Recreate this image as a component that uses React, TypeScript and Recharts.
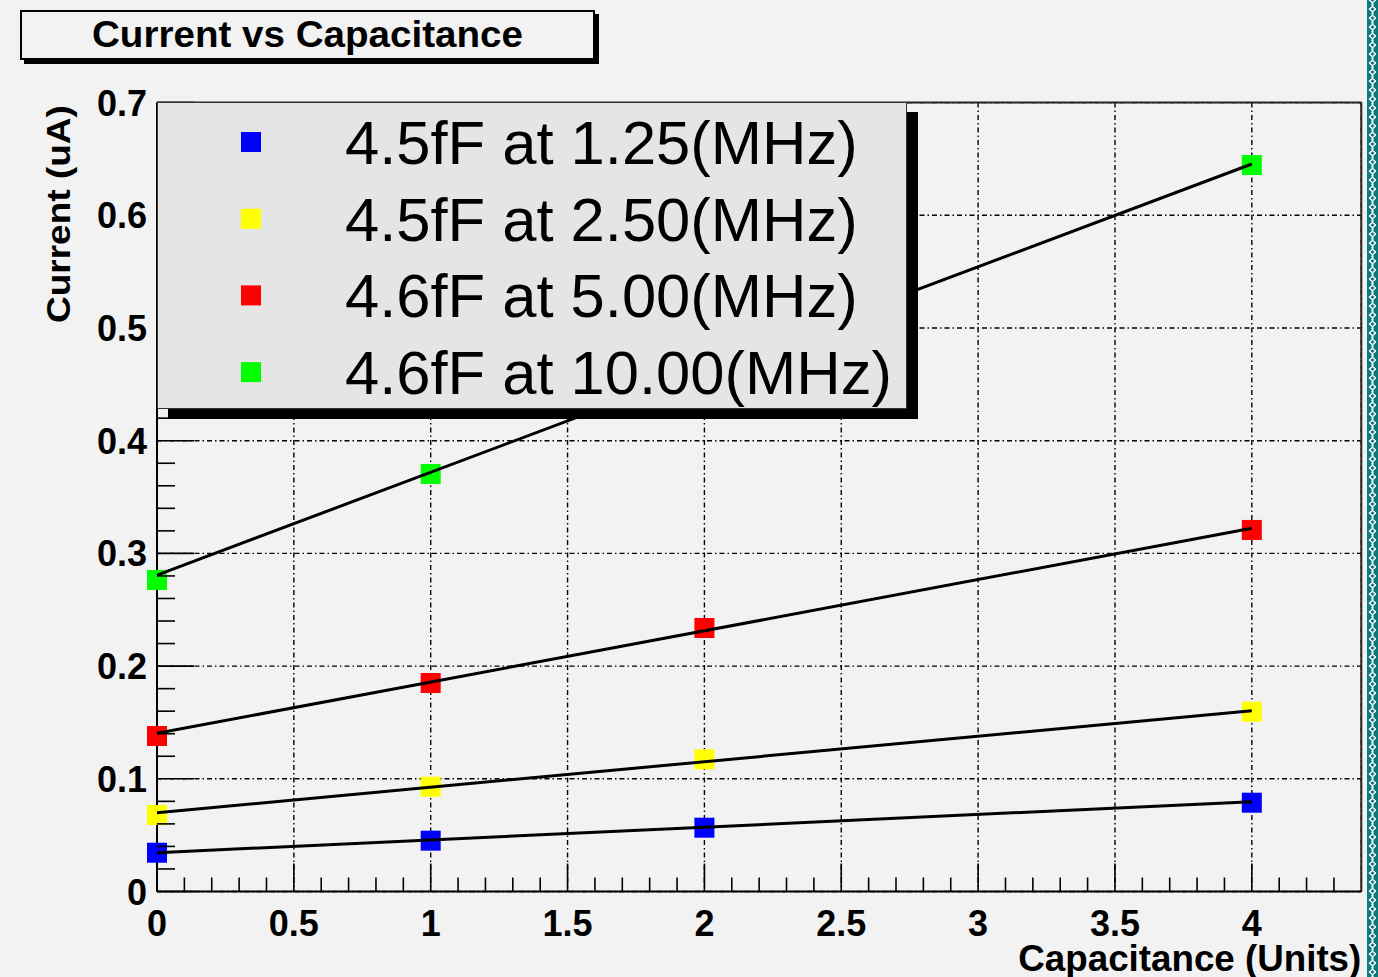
import React from 'react';
import { ComposedChart, Scatter, XAxis, YAxis, CartesianGrid, ReferenceLine, Legend } from 'recharts';

// ---- data ----
const capacitanceUnits = [0, 1, 2, 4];
const capacitanceUnits10MHz = [0, 1, 4];
const current125MHz = [0.0344, 0.0451, 0.0566, 0.0788];
const current250MHz = [0.0679, 0.093, 0.1173, 0.1595];
const current500MHz = [0.138, 0.185, 0.2338, 0.3208];
const current1000MHz = [0.2764, 0.3705, 0.6446];

// linear fit lines (end points)
const fitRange = [0, 4];
const fit125MHz = [0.0344, 0.0797];
const fit250MHz = [0.0699, 0.1604];
const fit500MHz = [0.1404, 0.3223];
const fit1000MHz = [0.2808, 0.6455];

const seriesLabels = ['4.5fF at 1.25(MHz)', '4.5fF at 2.50(MHz)', '4.6fF at 5.00(MHz)', '4.6fF at 10.00(MHz)'];
const seriesColors = ['#0000ff', '#ffff00', '#ff0000', '#00ff00'];

const chartTitle = 'Current vs Capacitance';
const xTitle = 'Capacitance (Units)';
const yTitle = 'Current (uA)';

const xTickValues = [0, 0.1, 0.2, 0.3, 0.4, 0.5, 0.6, 0.7, 0.8, 0.9, 1, 1.1, 1.2, 1.3, 1.4, 1.5, 1.6, 1.7, 1.8, 1.9, 2, 2.1, 2.2, 2.3, 2.4, 2.5, 2.6, 2.7, 2.8, 2.9, 3, 3.1, 3.2, 3.3, 3.4, 3.5, 3.6, 3.7, 3.8, 3.9, 4, 4.1, 4.2, 4.3];
const yTickValues = [0, 0.02, 0.04, 0.06, 0.08, 0.1, 0.12, 0.14, 0.16, 0.18, 0.2, 0.22, 0.24, 0.26, 0.28, 0.3, 0.32, 0.34, 0.36, 0.38, 0.4, 0.42, 0.44, 0.46, 0.48, 0.5, 0.52, 0.54, 0.56, 0.58, 0.6, 0.62, 0.64, 0.66, 0.68, 0.7];
const xGridValues = [0.5, 1, 1.5, 2, 2.5, 3, 3.5, 4];
const yGridValues = [0.1, 0.2, 0.3, 0.4, 0.5, 0.6];
const xDomain = [0, 4.4];
const yDomain = [0, 0.7];

const toPoints = (xs: number[], ys: number[]) => xs.map((x, i) => ({ x, y: ys[i] }));

const FONT = '"Liberation Sans", Arial, Helvetica, sans-serif';

const isMultiple = (v: number, step: number) => Math.abs(v / step - Math.round(v / step)) < 1e-6;

const XTick = (props: any) => {
  const { x, y, payload } = props;
  const v = payload.value as number;
  const major = isMultiple(v, 0.5);
  return (
    <g>
      <line x1={x} x2={x} y1={y} y2={y - (major ? 28 : 14)} stroke="#000" strokeWidth={1.6} />
      {major && (
        <text x={x} y={y + 44} textAnchor="middle" fontFamily={FONT} fontWeight="bold" fontSize={36} fill="#000">
          {String(v)}
        </text>
      )}
    </g>
  );
};

const YTick = (props: any) => {
  const { x, y, payload } = props;
  const v = payload.value as number;
  const major = isMultiple(v, 0.1);
  return (
    <g>
      <line x1={x} x2={x + (major ? 37 : 18)} y1={y} y2={y} stroke="#000" strokeWidth={1.6} />
      {major && (
        <text x={x - 10} y={y + 13} textAnchor="end" fontFamily={FONT} fontWeight="bold" fontSize={36} fill="#000">
          {String(v)}
        </text>
      )}
    </g>
  );
};

const XTitleLabel = (props: any) => {
  const vb = props.viewBox || { x: 157, y: 891.5, width: 1204, height: 85 };
  return (
    <text x={vb.x + vb.width} y={vb.y + 79} textAnchor="end" fontFamily={FONT} fontWeight="bold" fontSize={37}
      textLength={343} lengthAdjust="spacingAndGlyphs" fill="#000">
      {xTitle}
    </text>
  );
};

const YTitleLabel = (props: any) => {
  const vb = props.viewBox || { x: 57, y: 102.6, width: 100, height: 789 };
  const tx = vb.x + 13;
  const ty = vb.y + 2.5;
  return (
    <text x={tx} y={ty} transform={`rotate(-90 ${tx} ${ty})`} textAnchor="end" fontFamily={FONT} fontWeight="bold"
      fontSize={33} textLength={218} lengthAdjust="spacingAndGlyphs" fill="#000">
      {yTitle}
    </text>
  );
};

const square = (color: string) => (props: any) => {
  const { cx, cy } = props;
  if (cx == null || cy == null) return <g />;
  return <rect x={cx - 10} y={cy - 10} width={20} height={20} fill={color} />;
};

const noShape = () => <g />;

const LegendBox = () => (
  <div
    style={{
      width: 750,
      height: 307,
      boxSizing: 'border-box',
      border: '1.5px solid #333',
      background: '#e5e5e5',
      boxShadow: '11px 10px 0 #000',
    }}
  >
    <svg width={747} height={304} style={{ display: 'block' }}>
      {seriesLabels.map((label, i) => {
        const cy = 39 + i * 76.7;
        return (
          <g key={label}>
            <rect x={83} y={cy - 10} width={20} height={20} fill={seriesColors[i]} />
            <text x={187} y={cy + 22} fontFamily={FONT} fontSize={61.5} fill="#000">
              {label}
            </text>
          </g>
        );
      })}
    </svg>
  </div>
);

const ChainStrip = () => (
  <svg width={11} height={977} style={{ position: 'absolute', left: 1367, top: 0, display: 'block' }}>
    <defs>
      <pattern id="chain" width={11} height={9} patternUnits="userSpaceOnUse">
        <rect width={11} height={9} fill="#0a7a7a" />
        <path d="M2 0 Q10 4.5 2 9" stroke="#fff" strokeWidth={1.4} fill="none" />
        <path d="M9 0 Q1 4.5 9 9" stroke="#fff" strokeWidth={1.4} fill="none" />
      </pattern>
    </defs>
    <rect width={11} height={977} fill="url(#chain)" />
    <rect x={0} y={0} width={1.5} height={977} fill="#0a7a7a" />
    <rect x={9.5} y={0} width={1.5} height={977} fill="#0a7a7a" />
  </svg>
);

export default function App() {
  return (
    <div
      style={{
        position: 'absolute',
        left: 0,
        top: 0,
        width: 1378,
        height: 977,
        background: '#f2f2f2',
        overflow: 'hidden',
        fontFamily: FONT,
      }}
    >
      <ComposedChart width={1378} height={977} margin={{ top: 102.6, right: 16.7, bottom: 0, left: 57 }}>
        <XAxis xAxisId="grid" type="number" dataKey="x" domain={xDomain} ticks={xGridValues} hide allowDataOverflow />
        <YAxis yAxisId="grid" type="number" dataKey="y" domain={yDomain} ticks={yGridValues} hide allowDataOverflow />
        <CartesianGrid xAxisId="grid" yAxisId="grid" stroke="#000" strokeWidth={1.4} strokeDasharray="5 3 1.5 3" />
        <XAxis
          type="number"
          dataKey="x"
          domain={xDomain}
          ticks={xTickValues}
          interval={0}
          height={85.5}
          tickSize={0}
          tickMargin={0}
          tickLine={false}
          axisLine={{ stroke: '#000', strokeWidth: 2 }}
          tick={<XTick />}
          label={{ content: <XTitleLabel /> }}
        />
        <YAxis
          type="number"
          dataKey="y"
          domain={yDomain}
          ticks={yTickValues}
          interval={0}
          width={100}
          tickSize={0}
          tickMargin={0}
          tickLine={false}
          axisLine={{ stroke: '#000', strokeWidth: 2 }}
          tick={<YTick />}
          label={{ content: <YTitleLabel /> }}
        />
        <ReferenceLine y={0.7} stroke="#222" strokeWidth={2} />
        <ReferenceLine x={4.4} stroke="#222" strokeWidth={2} />

        <Scatter name={seriesLabels[0]} data={toPoints(capacitanceUnits, current125MHz)} shape={square(seriesColors[0])} fill={seriesColors[0]} isAnimationActive={false} />
        <Scatter name={seriesLabels[1]} data={toPoints(capacitanceUnits, current250MHz)} shape={square(seriesColors[1])} fill={seriesColors[1]} isAnimationActive={false} />
        <Scatter name={seriesLabels[2]} data={toPoints(capacitanceUnits, current500MHz)} shape={square(seriesColors[2])} fill={seriesColors[2]} isAnimationActive={false} />
        <Scatter name={seriesLabels[3]} data={toPoints(capacitanceUnits10MHz, current1000MHz)} shape={square(seriesColors[3])} fill={seriesColors[3]} isAnimationActive={false} />

        <Scatter name="fit1" legendType="none" data={toPoints(fitRange, fit125MHz)} shape={noShape} line={{ stroke: '#000', strokeWidth: 3 }} isAnimationActive={false} />
        <Scatter name="fit2" legendType="none" data={toPoints(fitRange, fit250MHz)} shape={noShape} line={{ stroke: '#000', strokeWidth: 3 }} isAnimationActive={false} />
        <Scatter name="fit3" legendType="none" data={toPoints(fitRange, fit500MHz)} shape={noShape} line={{ stroke: '#000', strokeWidth: 3 }} isAnimationActive={false} />
        <Scatter name="fit4" legendType="none" data={toPoints(fitRange, fit1000MHz)} shape={noShape} line={{ stroke: '#000', strokeWidth: 3 }} isAnimationActive={false} />

        <Legend
          layout="vertical"
          align="center"
          verticalAlign="middle"
          width={761}
          height={317}
          wrapperStyle={{ left: 157, top: 102, width: 761, height: 317, margin: 0, padding: 0 }}
          content={() => <LegendBox />}
        />
      </ComposedChart>

      <div
        style={{
          position: 'absolute',
          left: 20,
          top: 10,
          width: 575,
          height: 50,
          boxSizing: 'border-box',
          border: '2px solid #000',
          boxShadow: '4px 4px 0 #000',
          background: '#f2f2f2',
          zIndex: 2,
        }}
      >
        <svg width={571} height={46} style={{ display: 'block' }}>
          <text x={285.5} y={35} textAnchor="middle" fontFamily={FONT} fontWeight="bold" fontSize={36}
            textLength={431} lengthAdjust="spacingAndGlyphs" fill="#000">
            {chartTitle}
          </text>
        </svg>
      </div>

      <ChainStrip />
    </div>
  );
}
